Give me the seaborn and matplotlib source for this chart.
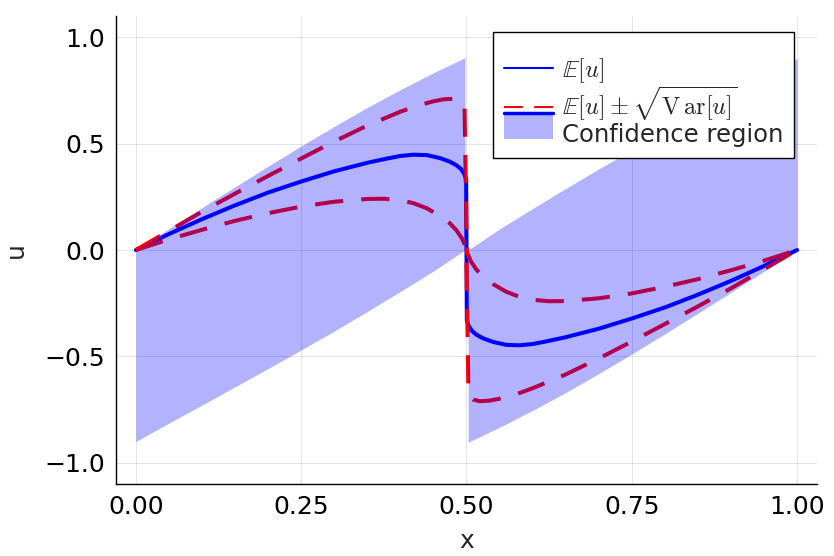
import matplotlib
matplotlib.use("Agg")
import matplotlib.pyplot as plt
import seaborn as sns
from matplotlib.lines import Line2D
from matplotlib.patches import Rectangle
from matplotlib.legend_handler import HandlerBase

# Values
mean_x = [0, 0.05, 0.1, 0.15, 0.2, 0.25, 0.3, 0.35, 0.38, 0.4, 0.42, 0.44,
          0.46, 0.475, 0.485, 0.492, 0.497, 0.4995,
          0.5005, 0.503, 0.508, 0.515, 0.525, 0.54, 0.56, 0.58, 0.6, 0.62,
          0.65, 0.7, 0.75, 0.8, 0.85, 0.9, 0.95, 1.0]
mean_u = [0, 0.075, 0.145, 0.21, 0.27, 0.322, 0.37, 0.41, 0.43, 0.442, 0.448,
          0.446, 0.432, 0.415, 0.398, 0.38, 0.355, 0.33,
          -0.33, -0.355, -0.38, -0.398, -0.415, -0.432, -0.446, -0.448,
          -0.442, -0.43, -0.41, -0.37, -0.322, -0.27, -0.21, -0.145, -0.075, 0]

upper_x = [0, 0.05, 0.1, 0.15, 0.2, 0.25, 0.3, 0.35, 0.4, 0.425, 0.45, 0.465,
           0.48, 0.49, 0.497,
           0.5005, 0.507, 0.515, 0.525, 0.54, 0.56, 0.58, 0.6, 0.625, 0.65,
           0.7, 0.75, 0.8, 0.85, 0.9, 0.95, 1.0]
upper_u = [0, 0.09, 0.18, 0.265, 0.348, 0.43, 0.51, 0.585, 0.65, 0.678, 0.699,
           0.708, 0.711, 0.703, 0.684,
           -0.01, -0.055, -0.092, -0.125, -0.16, -0.196, -0.22, -0.234,
           -0.241, -0.24, -0.227, -0.204, -0.173, -0.137, -0.095, -0.05, 0]

lower_x = [0, 0.05, 0.1, 0.15, 0.2, 0.25, 0.3, 0.35, 0.375, 0.4, 0.42, 0.44,
           0.46, 0.475, 0.485, 0.493, 0.4995,
           0.503, 0.51, 0.52, 0.535, 0.55, 0.575, 0.6, 0.65, 0.7, 0.75, 0.8,
           0.85, 0.9, 0.95, 1.0]
lower_u = [0, 0.05, 0.095, 0.137, 0.173, 0.204, 0.227, 0.24, 0.241, 0.234,
           0.22, 0.196, 0.16, 0.125, 0.092, 0.055, 0.01,
           -0.684, -0.703, -0.711, -0.708, -0.699, -0.678, -0.65, -0.585,
           -0.51, -0.43, -0.348, -0.265, -0.18, -0.09, 0]

fill_left_x = [0, 0.05, 0.1, 0.15, 0.2, 0.25, 0.3, 0.35, 0.4, 0.45, 0.4975]
fill_left_hi = [0, 0.1, 0.199, 0.297, 0.394, 0.489, 0.581, 0.670, 0.754,
                0.833, 0.904]
fill_left_lo = [-0.9, -0.814, -0.729, -0.643, -0.557, -0.470, -0.381, -0.289,
                -0.195, -0.099, 0.0]
fill_right_x = [0.5025, 0.55, 0.6, 0.65, 0.7, 0.75, 0.8, 0.85, 0.9, 0.95, 1.0]
fill_right_hi = [0.0, 0.099, 0.195, 0.289, 0.381, 0.470, 0.557, 0.643, 0.729,
                 0.814, 0.9]
fill_right_lo = [-0.904, -0.833, -0.754, -0.670, -0.581, -0.489, -0.394,
                 -0.297, -0.199, -0.1, 0]

x_ticks = [0.0, 0.25, 0.5, 0.75, 1.0]
y_ticks = [-1.0, -0.5, 0.0, 0.5, 1.0]

labels = [r"$\mathbb{E}[u]$",
          r"$\mathbb{E}[u] \pm \sqrt{\mathrm{V}\,\mathrm{ar}[u]}$",
          "Confidence region"]

# Figure settings
TICK_FONTSIZE = 18
LABEL_FONTSIZE = 18
LEGEND_FONTSIZE = 17.5
LINE_W = 2.9
FILL_COLOR = (0, 0, 1, 0.3)

sns.set_style("white")
plt.rcParams["font.family"] = ["DejaVu Sans"]
plt.rcParams["mathtext.fontset"] = "cm"


class FillWithLine(HandlerBase):
    """Legend entry: shaded patch with a thick line along its top."""

    def create_artists(self, legend, orig_handle, xdescent, ydescent,
                       width, height, fontsize, trans):
        x0 = -xdescent
        y0 = -ydescent + 0.165 * height
        h = 1.53 * height
        rect = Rectangle((x0, y0), width, h, facecolor=FILL_COLOR,
                         edgecolor="none", transform=trans)
        line = Line2D([x0, x0 + width], [y0 + h, y0 + h], color="blue",
                      lw=2.5, transform=trans)
        return [rect, line]


fig = plt.figure(figsize=(8.34, 5.56), dpi=100)
ax = fig.add_axes([116 / 834, 1 - 484 / 556, 701 / 834, 468 / 556])

sns.lineplot(x=mean_x, y=mean_u, ax=ax, color="blue", lw=LINE_W,
             estimator=None, sort=False)
sns.lineplot(x=upper_x, y=upper_u, ax=ax, color="red", lw=LINE_W,
             linestyle=(0, (7, 4.5)), estimator=None, sort=False)
sns.lineplot(x=lower_x, y=lower_u, ax=ax, color="red", lw=LINE_W,
             linestyle=(0, (7, 4.5)), estimator=None, sort=False)

# Shaded region goes on top of the lines, like in the original
ax.fill_between(fill_left_x, fill_left_lo, fill_left_hi, color=FILL_COLOR,
                lw=0, zorder=3)
ax.fill_between(fill_right_x, fill_right_lo, fill_right_hi, color=FILL_COLOR,
                lw=0, zorder=3)

ax.set_xlim(-0.03, 1.03)
ax.set_ylim(-1.1, 1.1)
ax.set_xticks(x_ticks)
ax.set_yticks(y_ticks)
ax.set_xticklabels([f"{t:.2f}" for t in x_ticks])
ax.set_yticklabels([f"{t:.1f}".replace("-", "\u2212") for t in y_ticks])
ax.tick_params(direction="in", length=5, width=0.8, color="black",
               labelsize=TICK_FONTSIZE, pad=8, labelcolor="black")
ax.grid(True, color="black", alpha=0.1, lw=0.8)

for side in ["top", "right"]:
    ax.spines[side].set_visible(False)
for side in ["left", "bottom"]:
    ax.spines[side].set_color("black")
    ax.spines[side].set_linewidth(1.0)

ax.set_xlabel("x", fontsize=LABEL_FONTSIZE, labelpad=7)
ax.set_ylabel("u", fontsize=LABEL_FONTSIZE, labelpad=12)

handles = [
    Line2D([], [], color="blue", lw=1.5),
    Line2D([], [], color="red", lw=1.5, linestyle=(0, (9, 5.5))),
    Rectangle((0, 0), 1, 1, facecolor=FILL_COLOR),
]
# blank small title keeps the empty band above the first entry
leg = ax.legend(handles, labels, loc="upper right",
                bbox_to_anchor=(0.967, 0.966), fontsize=LEGEND_FONTSIZE,
                title=" ", title_fontsize=9.5,
                frameon=True, fancybox=False, framealpha=1, edgecolor="black",
                handlelength=2.0, handletextpad=0.35, borderpad=0.45,
                labelspacing=0.0, borderaxespad=0,
                handler_map={Rectangle: FillWithLine()})
leg.get_frame().set_linewidth(1.0)
leg.set_zorder(5)

fig.savefig("out.png", dpi=100)
